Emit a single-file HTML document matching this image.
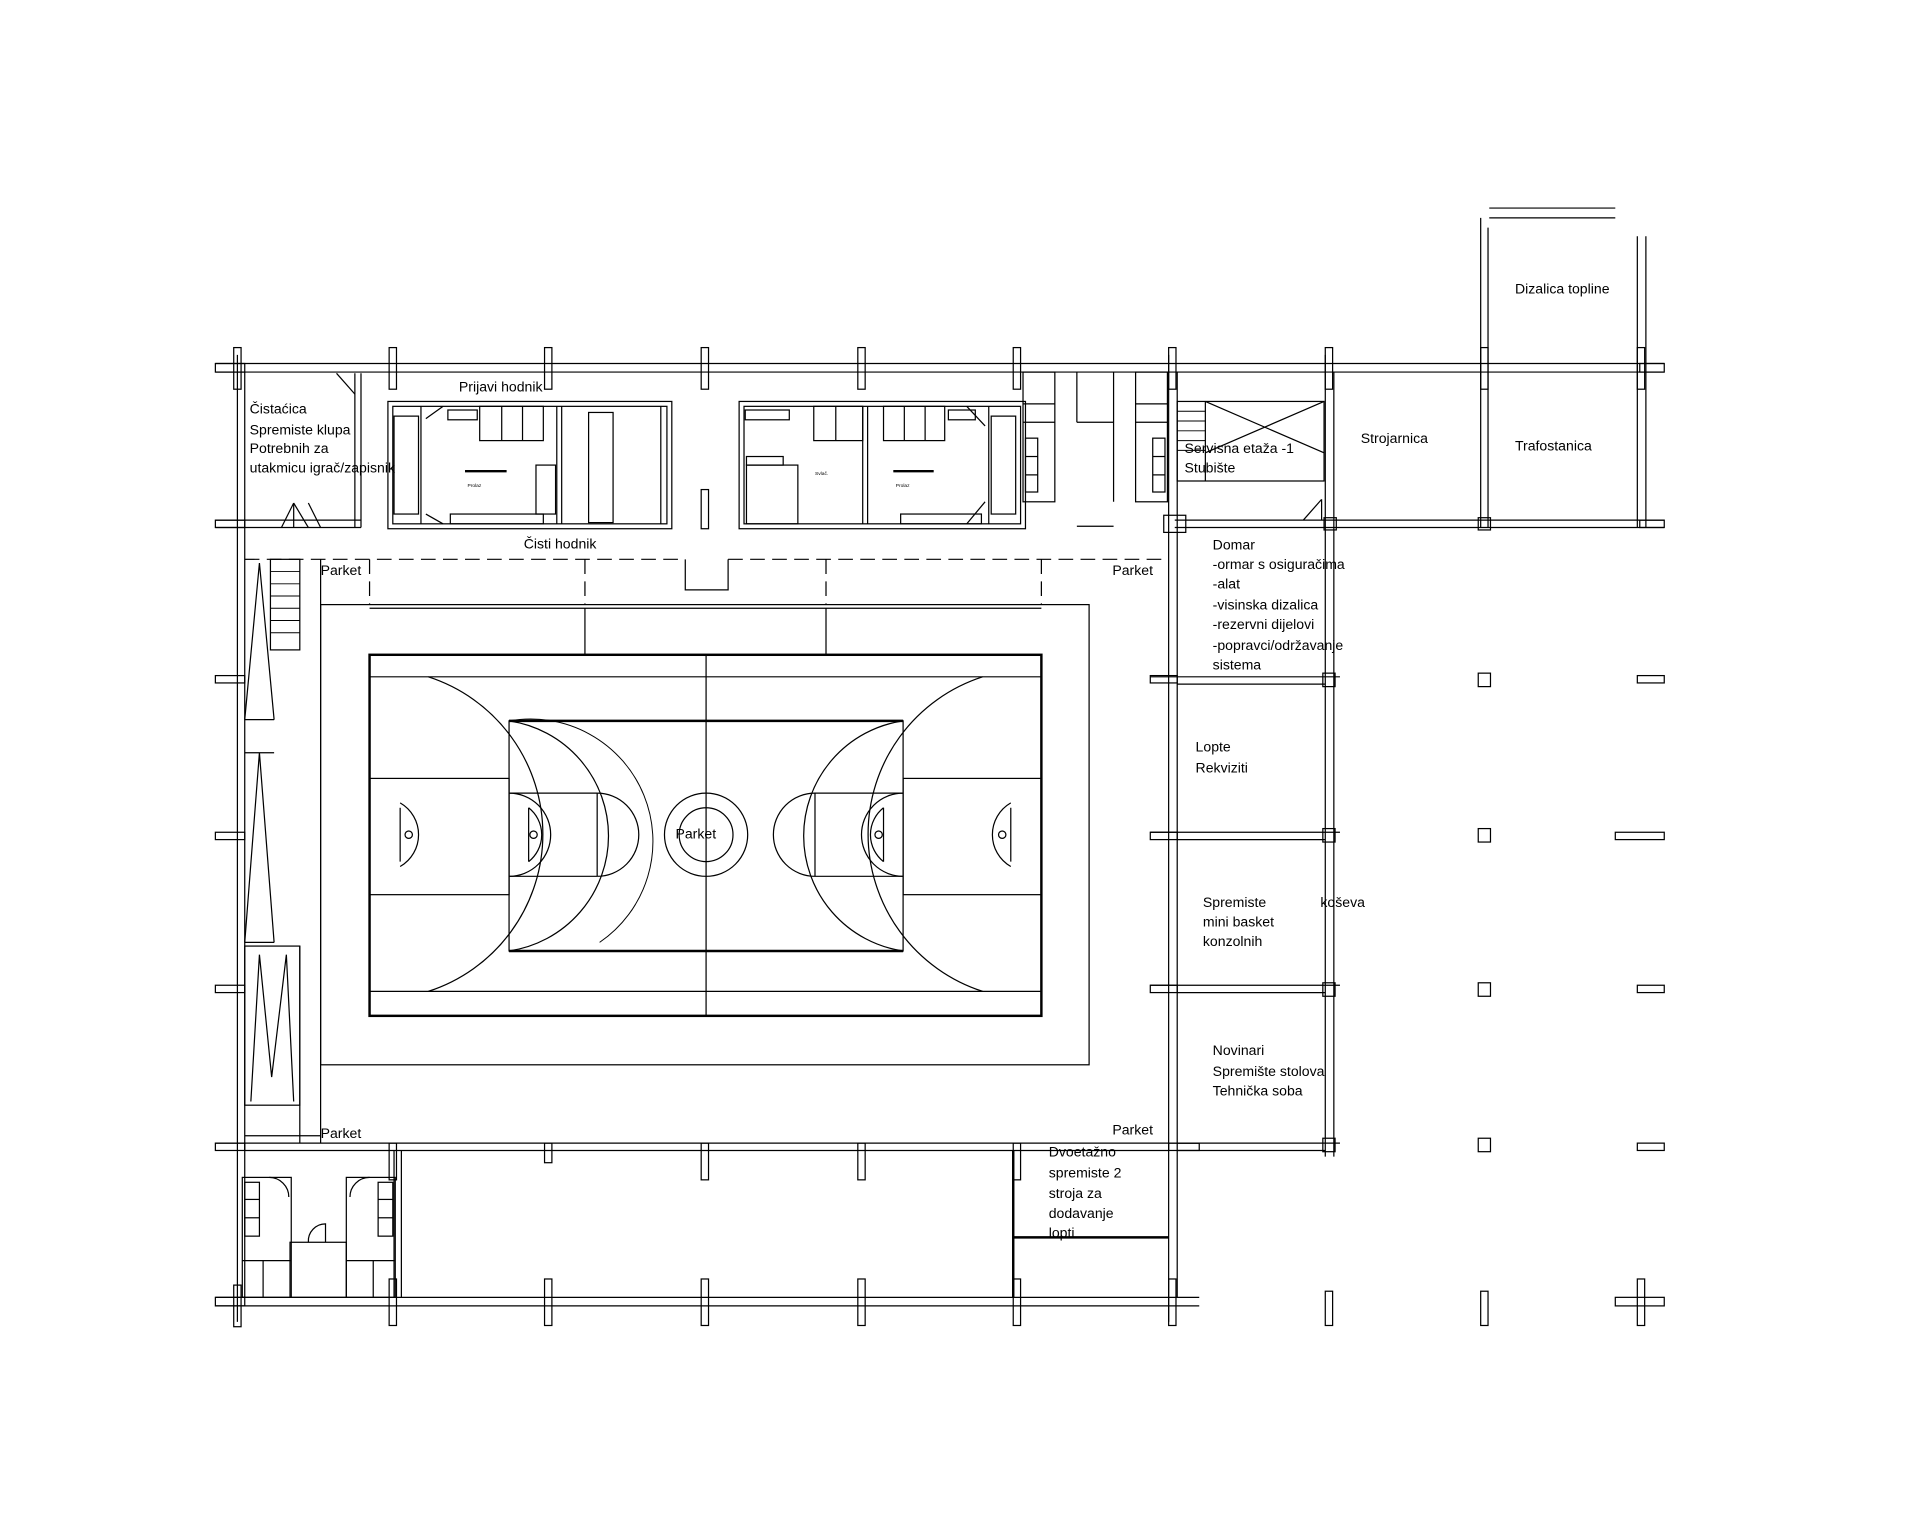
<!DOCTYPE html>
<html><head><meta charset="utf-8"><style>
html,body{margin:0;padding:0;background:#fff;width:1920px;height:1536px;overflow:hidden}
svg{display:block}
text{font-family:"Liberation Sans",sans-serif;font-size:11.5px;fill:#000}
text.s{font-size:4px}
</style></head><body>
<svg width="1920" height="1536" viewBox="0 0 1569 1255" preserveAspectRatio="none" xmlns="http://www.w3.org/2000/svg">
<g fill="none" stroke="#000" stroke-width="1">
<line x1="176" y1="297" x2="1360" y2="297"/><line x1="176" y1="304" x2="1360" y2="304"/>
<line x1="176" y1="425" x2="295" y2="425"/><line x1="176" y1="431" x2="295" y2="431"/>
<line x1="960" y1="425" x2="1360" y2="425"/><line x1="960" y1="431" x2="1360" y2="431"/>
<line x1="194" y1="290" x2="194" y2="1080"/><line x1="200" y1="304" x2="200" y2="1060"/>
<line x1="955" y1="290" x2="955" y2="1080"/><line x1="962" y1="304" x2="962" y2="1060"/>
<line x1="176" y1="934" x2="980" y2="934"/><line x1="200" y1="940" x2="955" y2="940"/>
<line x1="176" y1="1060" x2="980" y2="1060"/><line x1="176" y1="1067" x2="980" y2="1067"/>
<line x1="1083" y1="290" x2="1083" y2="945"/><line x1="1090" y1="304" x2="1090" y2="945"/>
<line x1="940" y1="553" x2="1095" y2="553"/><line x1="962" y1="559" x2="1083" y2="559"/>
<line x1="940" y1="680" x2="1095" y2="680"/><line x1="962" y1="686" x2="1083" y2="686"/>
<line x1="940" y1="805" x2="1095" y2="805"/><line x1="962" y1="811" x2="1083" y2="811"/>
<line x1="962" y1="934" x2="1095" y2="934"/><line x1="962" y1="940" x2="1083" y2="940"/>
<line x1="1210" y1="178" x2="1210" y2="431"/><line x1="1216" y1="186" x2="1216" y2="431"/>
<line x1="1338" y1="193" x2="1338" y2="431"/><line x1="1345" y1="193" x2="1345" y2="431"/>
<line x1="1217" y1="170" x2="1320" y2="170"/><line x1="1217" y1="178" x2="1320" y2="178"/>
<g>
<rect x="191" y="284" width="6" height="34"/><rect x="318" y="284" width="6" height="34"/><rect x="445" y="284" width="6" height="34"/>
<rect x="573" y="284" width="6" height="34"/><rect x="701" y="284" width="6" height="34"/><rect x="828" y="284" width="6" height="34"/>
<rect x="955" y="284" width="6" height="34"/><rect x="1083" y="284" width="6" height="34"/><rect x="1210" y="284" width="6" height="34"/><rect x="1338" y="284" width="6" height="34"/>
<rect x="176" y="297" width="24" height="7"/><rect x="1340" y="297" width="20" height="7"/>
<rect x="176" y="425" width="24" height="6"/><rect x="1340" y="425" width="20" height="6"/>
<rect x="951" y="421" width="18" height="14"/><rect x="1208" y="423" width="10" height="10"/><rect x="1082" y="423" width="10" height="10"/>
<rect x="176" y="552" width="24" height="6"/><rect x="176" y="680" width="24" height="6"/><rect x="176" y="805" width="24" height="6"/>
<rect x="176" y="934" width="24" height="6"/><rect x="176" y="1060" width="24" height="7"/>
<rect x="191" y="1050" width="6" height="34"/><rect x="318" y="1045" width="6" height="38"/><rect x="445" y="1045" width="6" height="38"/>
<rect x="573" y="1045" width="6" height="38"/><rect x="701" y="1045" width="6" height="38"/><rect x="828" y="1045" width="6" height="38"/>
<rect x="955" y="1045" width="6" height="38"/><rect x="1083" y="1055" width="6" height="28"/><rect x="1210" y="1055" width="6" height="28"/>
<rect x="1338" y="1045" width="6" height="38"/><rect x="1320" y="1060" width="40" height="7"/>
<rect x="445" y="934" width="6" height="16"/><rect x="573" y="934" width="6" height="30"/><rect x="701" y="934" width="6" height="30"/>
<rect x="318" y="934" width="6" height="30"/><rect x="828" y="934" width="6" height="30"/>
<rect x="1208" y="550" width="10" height="11"/><rect x="1208" y="677" width="10" height="11"/><rect x="1208" y="803" width="10" height="11"/><rect x="1208" y="930" width="10" height="11"/>
<rect x="1338" y="552" width="22" height="6"/><rect x="1320" y="680" width="40" height="6"/><rect x="1338" y="805" width="22" height="6"/><rect x="1338" y="934" width="22" height="6"/>
<rect x="1081" y="550" width="10" height="11"/><rect x="1081" y="677" width="10" height="11"/><rect x="1081" y="803" width="10" height="11"/><rect x="1081" y="930" width="10" height="11"/>
<rect x="940" y="680" width="22" height="6"/><rect x="940" y="552" width="22" height="6"/><rect x="940" y="805" width="22" height="6"/><rect x="955" y="934" width="25" height="6"/>
<rect x="573" y="400" width="6" height="32"/>
</g>
<line x1="290" y1="305" x2="290" y2="431"/><line x1="295" y1="305" x2="295" y2="431"/>
<line x1="275" y1="305" x2="290" y2="322"/>
<line x1="230" y1="431" x2="240" y2="411"/><line x1="240" y1="411" x2="252" y2="431"/><line x1="240" y1="411" x2="240" y2="431"/><line x1="252" y1="411" x2="262" y2="431"/>
<rect x="317" y="328" width="232" height="104"/><rect x="321" y="332" width="224" height="96"/>
<rect x="604" y="328" width="234" height="104"/><rect x="608" y="332" width="226" height="96"/>
<line x1="455" y1="332" x2="455" y2="428"/><line x1="459" y1="332" x2="459" y2="428"/>
<line x1="344" y1="332" x2="344" y2="428"/><line x1="808" y1="332" x2="808" y2="428"/>
<line x1="705" y1="332" x2="705" y2="428"/><line x1="709" y1="332" x2="709" y2="428"/>
<rect x="392" y="332" width="52" height="28"/><line x1="410" y1="332" x2="410" y2="360"/><line x1="427" y1="332" x2="427" y2="360"/>
<rect x="665" y="332" width="40" height="28"/><line x1="683" y1="332" x2="683" y2="360"/>
<rect x="722" y="332" width="50" height="28"/><line x1="739" y1="332" x2="739" y2="360"/><line x1="756" y1="332" x2="756" y2="360"/>
<rect x="366" y="335" width="24" height="8"/><rect x="609" y="335" width="36" height="8"/><rect x="775" y="335" width="22" height="8"/>
<rect x="368" y="420" width="76" height="8"/><rect x="736" y="420" width="66" height="8"/>
<rect x="481" y="337" width="20" height="90"/><line x1="540" y1="332" x2="540" y2="428"/>
<rect x="322" y="340" width="20" height="80"/><rect x="810" y="340" width="20" height="80"/>
<rect x="438" y="380" width="16" height="40"/>
<line x1="348" y1="342" x2="362" y2="332"/><line x1="348" y1="420" x2="362" y2="428"/><line x1="790" y1="332" x2="805" y2="348"/><line x1="790" y1="428" x2="805" y2="410"/>
<rect x="610" y="380" width="42" height="48"/><rect x="610" y="373" width="30" height="7"/>
<line x1="380" y1="385" x2="414" y2="385" stroke-width="2"/><line x1="730" y1="385" x2="763" y2="385" stroke-width="2"/>
<rect x="836" y="304" width="26" height="106"/><line x1="836" y1="330" x2="862" y2="330"/><line x1="836" y1="345" x2="862" y2="345"/>
<rect x="838" y="358" width="10" height="44"/><line x1="838" y1="373" x2="848" y2="373"/><line x1="838" y1="388" x2="848" y2="388"/>
<line x1="880" y1="304" x2="880" y2="345"/><line x1="910" y1="304" x2="910" y2="410"/><line x1="880" y1="345" x2="910" y2="345"/>
<rect x="928" y="304" width="26" height="106"/><line x1="928" y1="330" x2="954" y2="330"/><line x1="928" y1="345" x2="954" y2="345"/>
<rect x="942" y="358" width="10" height="44"/><line x1="942" y1="373" x2="952" y2="373"/><line x1="942" y1="388" x2="952" y2="388"/>
<line x1="880" y1="430" x2="910" y2="430"/>
<rect x="962" y="328" width="120" height="65"/><line x1="985" y1="328" x2="1082" y2="370"/><line x1="985" y1="370" x2="1082" y2="328"/>
<line x1="985" y1="328" x2="985" y2="393"/>
<g stroke-width="0.8"><line x1="962" y1="336" x2="985" y2="336"/><line x1="962" y1="344" x2="985" y2="344"/><line x1="962" y1="352" x2="985" y2="352"/><line x1="962" y1="360" x2="985" y2="360"/><line x1="962" y1="368" x2="985" y2="368"/></g>
<line x1="1065" y1="425" x2="1080" y2="408"/><line x1="1080" y1="408" x2="1080" y2="425"/>
<g stroke-dasharray="12,6">
<line x1="200" y1="457" x2="560" y2="457"/><line x1="595" y1="457" x2="955" y2="457"/>
<line x1="302" y1="457" x2="302" y2="494"/><line x1="478" y1="457" x2="478" y2="494"/><line x1="675" y1="457" x2="675" y2="494"/><line x1="851" y1="457" x2="851" y2="494"/>
</g>
<polyline points="560,457 560,482 595,482 595,457"/>
<rect x="221" y="457" width="24" height="74"/>
<g stroke-width="0.8"><line x1="221" y1="467" x2="245" y2="467"/><line x1="221" y1="477" x2="245" y2="477"/><line x1="221" y1="487" x2="245" y2="487"/><line x1="221" y1="497" x2="245" y2="497"/><line x1="221" y1="507" x2="245" y2="507"/><line x1="221" y1="517" x2="245" y2="517"/></g>
<line x1="262" y1="457" x2="262" y2="934"/>
<polyline points="200,588 212,460 224,588"/><polyline points="200,770 212,615 224,770"/>
<line x1="200" y1="588" x2="224" y2="588"/><line x1="200" y1="615" x2="224" y2="615"/><line x1="200" y1="770" x2="224" y2="770"/>
<rect x="200" y="773" width="45" height="130"/>
<polyline points="205,900 212,780 222,880 234,780 240,900"/>
<line x1="245" y1="773" x2="245" y2="934"/>
<line x1="200" y1="928" x2="262" y2="928"/>
<rect x="262" y="494" width="628" height="376"/>
<line x1="302" y1="497" x2="851" y2="497"/><line x1="478" y1="497" x2="478" y2="535"/><line x1="675" y1="497" x2="675" y2="535"/>
<rect x="302" y="535" width="549" height="295" stroke-width="2"/>
<line x1="302" y1="553" x2="851" y2="553"/><line x1="302" y1="810" x2="851" y2="810"/>
<line x1="577" y1="535" x2="577" y2="830"/>
<rect x="416" y="589" width="322" height="188"/>
<line x1="416" y1="589" x2="738" y2="589" stroke-width="2"/><line x1="416" y1="777" x2="738" y2="777" stroke-width="2"/>
<rect x="302" y="636" width="114" height="95"/><rect x="738" y="636" width="113" height="95"/>
<line x1="416" y1="648" x2="488" y2="648"/><line x1="416" y1="716" x2="488" y2="716"/><line x1="488" y1="648" x2="488" y2="716"/>
<line x1="666" y1="648" x2="738" y2="648"/><line x1="666" y1="716" x2="738" y2="716"/><line x1="666" y1="648" x2="666" y2="716"/>
<circle cx="577" cy="682" r="34"/><circle cx="577" cy="682" r="22"/>
<path d="M350,553 A135,135 0 0 1 350,810"/><path d="M803,553 A135,135 0 0 0 803,810"/>
<path d="M416,589 A95,95 0 0 1 416,777"/><path d="M738,589 A95,95 0 0 0 738,777"/>
<path d="M416,589 A100,100 0 0 1 490,770" stroke-width="0.8"/>
<path d="M488,648 A34,34 0 0 1 488,716"/><path d="M666,648 A34,34 0 0 0 666,716"/>
<path d="M416,648 A34,34 0 0 1 416,716"/><path d="M738,648 A34,34 0 0 0 738,716"/>
<path d="M327,656 A30,30 0 0 1 327,708"/><path d="M826,656 A30,30 0 0 0 826,708"/>
<line x1="327" y1="660" x2="327" y2="704"/><line x1="826" y1="660" x2="826" y2="704"/>
<circle cx="334" cy="682" r="3"/><circle cx="819" cy="682" r="3"/><circle cx="436" cy="682" r="3"/><circle cx="718" cy="682" r="3"/>
<line x1="432" y1="660" x2="432" y2="704"/><line x1="722" y1="660" x2="722" y2="704"/>
<path d="M432,660 A28,28 0 0 1 432,704"/><path d="M722,660 A28,28 0 0 0 722,704"/>
<rect x="198" y="962" width="40" height="98"/><rect x="283" y="962" width="40" height="98"/>
<rect x="237" y="1015" width="46" height="45"/>
<rect x="200" y="966" width="12" height="44"/><rect x="309" y="966" width="12" height="44"/>
<line x1="200" y1="980" x2="212" y2="980"/><line x1="200" y1="995" x2="212" y2="995"/><line x1="309" y1="980" x2="321" y2="980"/><line x1="309" y1="995" x2="321" y2="995"/>
<line x1="215" y1="1030" x2="215" y2="1060"/><line x1="305" y1="1030" x2="305" y2="1060"/><line x1="198" y1="1030" x2="238" y2="1030"/><line x1="283" y1="1030" x2="323" y2="1030"/>
<path d="M220,962 A16,16 0 0 1 236,978"/><path d="M286,978 A16,16 0 0 1 302,962"/><path d="M252,1015 A14,14 0 0 1 266,1000 L266,1015"/>
<line x1="322" y1="940" x2="322" y2="1060"/><line x1="328" y1="940" x2="328" y2="1060"/>
<line x1="828" y1="940" x2="828" y2="1060" stroke-width="2"/><line x1="828" y1="1011" x2="955" y2="1011" stroke-width="2"/>
</g>
<text x="375" y="320">Prijavi hodnik</text>
<text x="204" y="338">Čistaćica</text><text x="204" y="355">Spremiste klupa</text><text x="204" y="370">Potrebnih za</text><text x="204" y="386">utakmicu igrač/zapisnik</text>
<text x="428" y="448">Čisti hodnik</text>
<text x="262" y="470">Parket</text><text x="909" y="470">Parket</text>
<text x="552" y="685">Parket</text>
<text x="262" y="930">Parket</text><text x="909" y="927">Parket</text>
<text x="968" y="370">Servisna etaža -1</text><text x="968" y="386">Stubište</text>
<text x="1112" y="362">Strojarnica</text><text x="1238" y="368">Trafostanica</text><text x="1238" y="240">Dizalica topline</text>
<text x="991" y="449">Domar</text><text x="991" y="465">-ormar s osiguračima</text><text x="991" y="481">-alat</text><text x="991" y="498">-visinska dizalica</text><text x="991" y="514">-rezervni dijelovi</text><text x="991" y="531">-popravci/održavanje</text><text x="991" y="547">sistema</text>
<text x="977" y="614">Lopte</text><text x="977" y="631">Rekviziti</text>
<text x="983" y="741">Spremiste</text><text x="1079" y="741">koševa</text><text x="983" y="757">mini basket</text><text x="983" y="773">konzolnih</text>
<text x="991" y="862">Novinari</text><text x="991" y="879">Spremište stolova</text><text x="991" y="895">Tehnička soba</text>
<text x="857" y="945">Dvoetažno</text><text x="857" y="962">spremiste 2</text><text x="857" y="979">stroja za</text><text x="857" y="995">dodavanje</text><text x="857" y="1011">lopti</text>
<text class="s" x="382" y="398">Prolaz</text><text class="s" x="732" y="398">Prolaz</text><text class="s" x="666" y="388">Svlač.</text>
</svg>
</body></html>
